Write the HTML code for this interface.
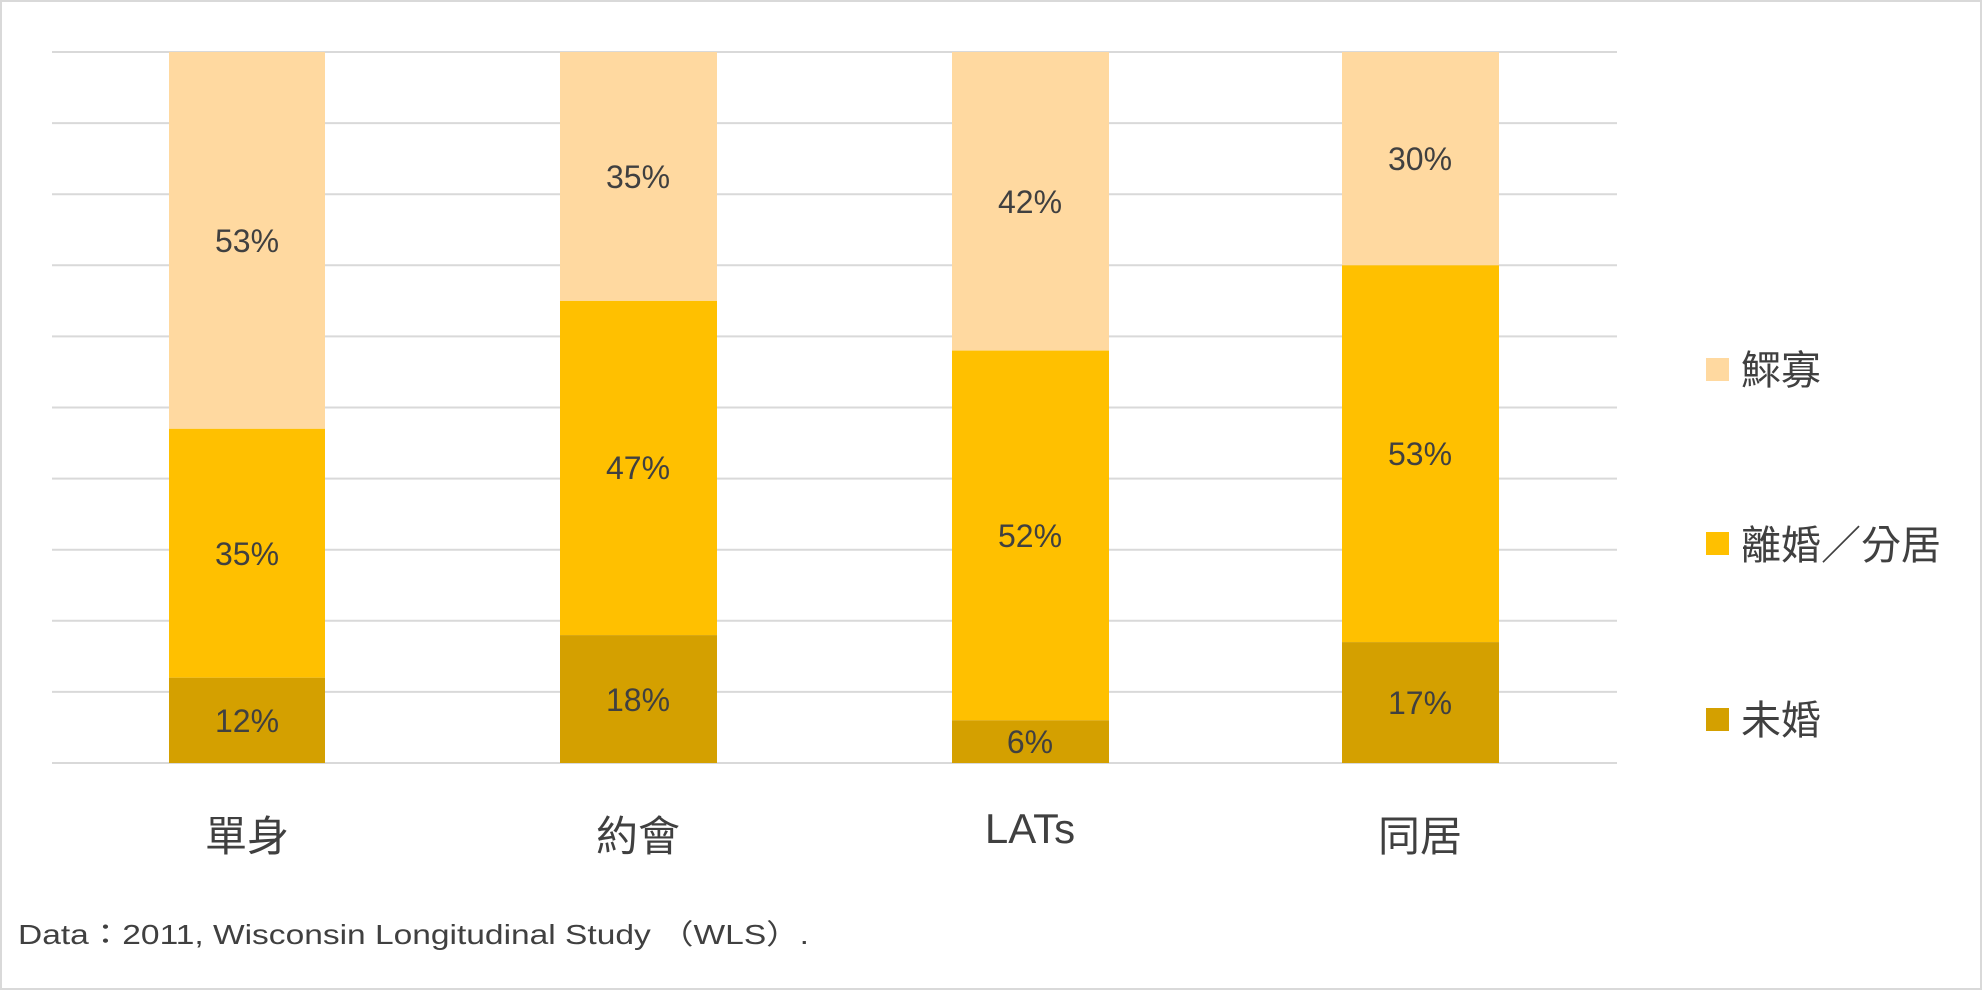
<!DOCTYPE html>
<html><head><meta charset="utf-8"><style>
body{margin:0;background:#fff}
svg text{font-family:"Liberation Sans","Noto Sans CJK TC",sans-serif;fill:#404040}
</style></head><body>
<svg width="1982" height="990" xmlns="http://www.w3.org/2000/svg">
<rect x="1" y="1" width="1980" height="988" fill="#fff" stroke="#d9d9d9" stroke-width="2"/>
<g stroke="#d9d9d9" stroke-width="2">
<line x1="52" x2="1617" y1="52" y2="52"/><line x1="52" x2="1617" y1="123.1" y2="123.1"/>
<line x1="52" x2="1617" y1="194.2" y2="194.2"/><line x1="52" x2="1617" y1="265.3" y2="265.3"/>
<line x1="52" x2="1617" y1="336.4" y2="336.4"/><line x1="52" x2="1617" y1="407.5" y2="407.5"/>
<line x1="52" x2="1617" y1="478.6" y2="478.6"/><line x1="52" x2="1617" y1="549.7" y2="549.7"/>
<line x1="52" x2="1617" y1="620.8" y2="620.8"/><line x1="52" x2="1617" y1="691.9" y2="691.9"/>
<line x1="52" x2="1617" y1="763" y2="763"/>
</g>
<g>
<rect x="169" y="52" width="156" height="376.8" fill="#ffd9a0"/>
<rect x="169" y="428.8" width="156" height="248.9" fill="#ffc000"/>
<rect x="169" y="677.7" width="156" height="85.3" fill="#d4a000"/>
<rect x="560" y="52" width="157" height="248.9" fill="#ffd9a0"/>
<rect x="560" y="300.9" width="157" height="334.2" fill="#ffc000"/>
<rect x="560" y="635.1" width="157" height="127.9" fill="#d4a000"/>
<rect x="952" y="52" width="157" height="298.6" fill="#ffd9a0"/>
<rect x="952" y="350.6" width="157" height="369.7" fill="#ffc000"/>
<rect x="952" y="720.3" width="157" height="42.7" fill="#d4a000"/>
<rect x="1342" y="52" width="157" height="213.3" fill="#ffd9a0"/>
<rect x="1342" y="265.3" width="157" height="376.8" fill="#ffc000"/>
<rect x="1342" y="642.1" width="157" height="120.9" fill="#d4a000"/>
</g>
<g font-size="32" text-anchor="middle">
<text x="247" y="252">53%</text><text x="247" y="565">35%</text><text x="247" y="732">12%</text>
<text x="638" y="188">35%</text><text x="638" y="479">47%</text><text x="638" y="711">18%</text>
<text x="1030" y="213">42%</text><text x="1030" y="547">52%</text><text x="1030" y="753">6%</text>
<text x="1420" y="170">30%</text><text x="1420" y="465">53%</text><text x="1420" y="714">17%</text>
</g>
<g font-size="42" text-anchor="middle">
<text x="247" y="851">單身</text><text x="638" y="851">約會</text>
<text x="1030" y="843">LATs</text><text x="1420" y="851">同居</text>
</g>
<rect x="1706" y="358" width="23" height="23" fill="#ffd9a0"/>
<rect x="1706" y="532" width="23" height="23" fill="#ffc000"/>
<rect x="1706" y="708" width="23" height="23" fill="#d4a000"/>
<g font-size="40">
<text x="1741" y="384">鰥寡</text><text x="1741" y="559">離婚／分居</text><text x="1741" y="734">未婚</text>
</g>
<text x="18" y="944" font-size="28" textLength="791" lengthAdjust="spacingAndGlyphs">Data：2011, Wisconsin Longitudinal Study （WLS）.</text>
</svg>
</body></html>
